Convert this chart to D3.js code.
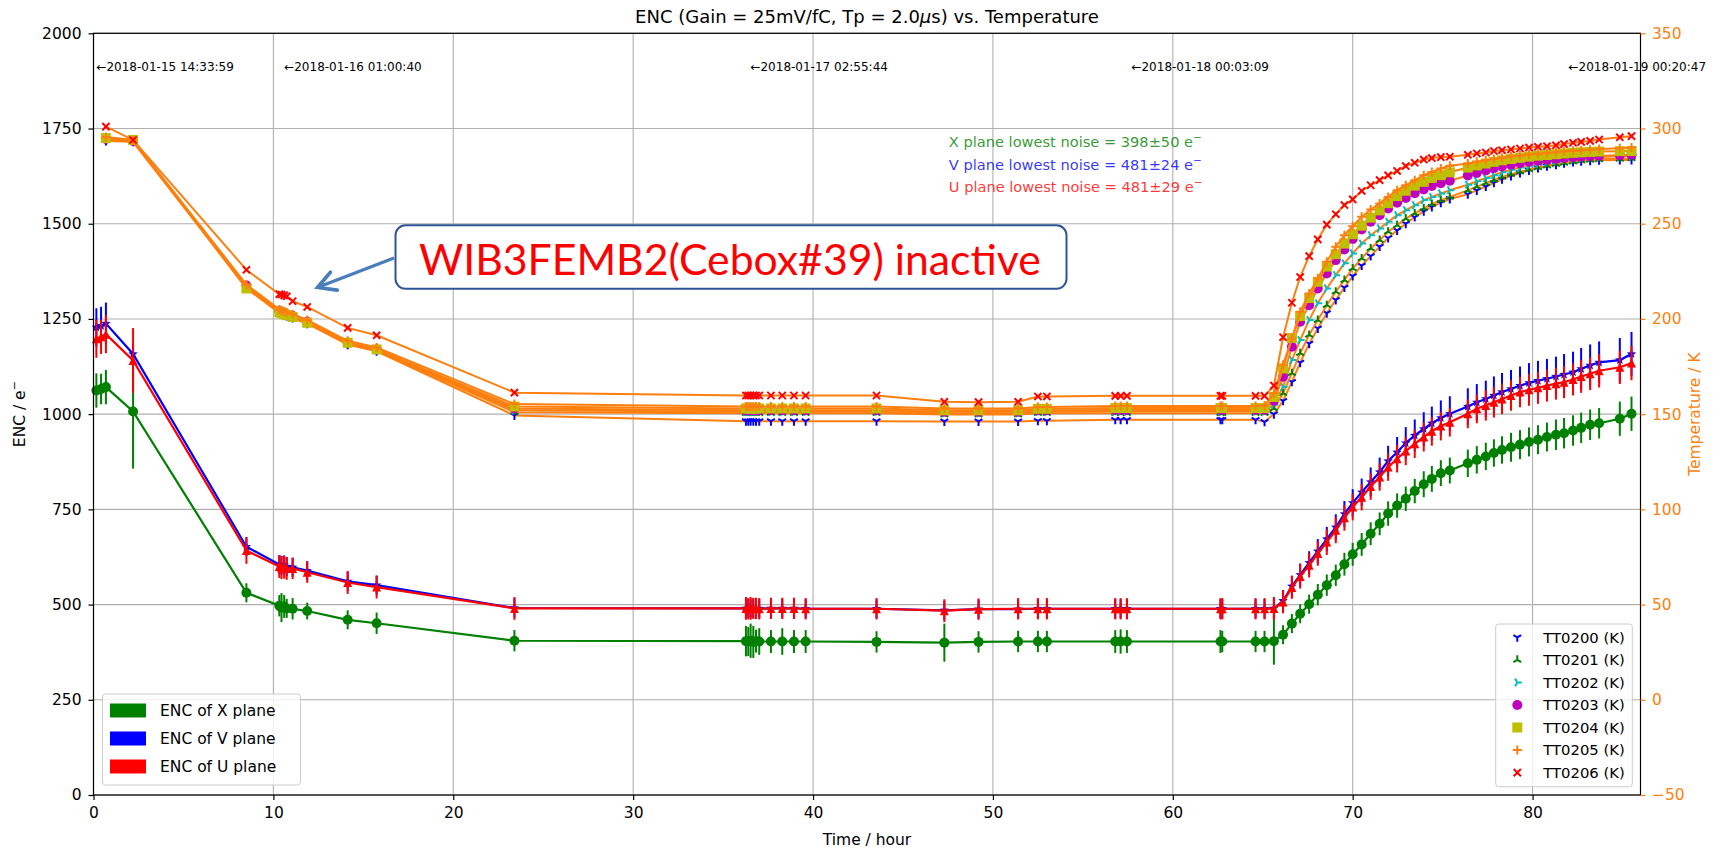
<!DOCTYPE html>
<html><head><meta charset="utf-8">
<script src="https://cdn.jsdelivr.net/npm/d3@7"></script>
<style>body{margin:0;background:#fff}svg{display:block}</style>
</head><body><svg id="c" width="1723" height="849"></svg>
<script>
// ---------------- data ----------------
const times = [0.16, 0.42, 0.69, 2.2, 8.5,
 10.33, 10.45, 10.6, 10.74, 11.07, 11.88, 14.13, 15.74, 23.4,
 36.27, 36.40, 36.53, 36.68, 36.83, 37.01, 37.66, 38.29, 38.94, 39.59,
 43.53, 47.3, 49.2, 51.4, 52.5, 53.0, 56.8, 57.1, 57.45, 62.65, 62.75, 64.6, 65.1, 65.62,
 66.13, 66.62, 67.08, 67.58, 68.06, 68.56, 69.06, 69.54, 70.0, 70.5,
 71.0, 71.5, 71.97, 72.47, 72.95, 73.45, 73.95, 74.4, 74.9, 75.4,
 76.4, 76.9, 77.4, 77.85, 78.3, 78.8, 79.3, 79.8, 80.3, 80.8,
 81.3, 81.75, 82.25, 82.7, 83.2, 83.7, 84.85, 85.5];

const encX = [1062, 1066, 1071, 1007, 531,
 497, 492, 495, 490, 489, 483, 460, 451, 405,
 404, 403, 405, 402, 404, 403, 403, 403, 403, 403,
 402, 400, 402, 403, 403, 403, 403, 403, 403, 403, 403, 403, 403, 404,
 421, 450, 476, 501, 526, 551, 577, 606, 632, 658,
 686, 712, 739, 760, 778, 798, 816, 830, 845, 852,
 871, 880, 889, 898, 906, 913, 920, 927, 933, 940,
 946, 950, 957, 964, 972, 976, 988, 1001];
const encXErr = [45, 40, 45, 150, 25,
 28, 38, 30, 25, 28, 22, 25, 28, 28,
 40, 38, 45, 42, 30, 35, 30, 35, 30, 30,
 28, 50, 28, 28, 28, 28, 30, 32, 30, 30, 28, 28, 28, 62,
 25, 25, 25, 25, 28, 28, 28, 30, 30, 30,
 30, 30, 32, 32, 32, 32, 34, 34, 34, 34,
 36, 36, 36, 36, 36, 38, 38, 38, 38, 38,
 40, 40, 40, 40, 40, 40, 45, 45];

const encV = [1228, 1232, 1238, 1158, 652,
 605, 603, 604, 600, 598, 589, 561, 551, 491,
 490, 490, 489, 490, 490, 489, 490, 490, 490, 489,
 489, 485, 488, 488, 489, 489, 489, 489, 489, 489, 489, 489, 489, 490,
 510, 548, 578, 610, 640, 672, 703, 738, 767, 795,
 822, 848, 877, 900, 924, 944, 961, 976, 990, 1001,
 1020, 1031, 1040, 1049, 1058, 1066, 1075, 1082, 1088, 1093,
 1099, 1104, 1110, 1119, 1128, 1136, 1142, 1158];
const encVErr = [50, 50, 55, 25, 25,
 25, 25, 25, 25, 25, 25, 25, 25, 25,
 25, 25, 25, 25, 25, 25, 25, 25, 25, 25,
 25, 25, 25, 25, 25, 25, 25, 25, 25, 25, 25, 25, 25, 25,
 28, 28, 30, 30, 32, 32, 34, 34, 36, 36,
 38, 38, 40, 40, 42, 42, 44, 44, 46, 46,
 48, 48, 48, 50, 50, 50, 50, 52, 52, 52,
 52, 54, 54, 55, 55, 55, 58, 58];

const encU = [1198, 1203, 1210, 1141, 642,
 600, 597, 598, 595, 595, 585, 558, 546, 490,
 490, 489, 490, 490, 490, 489, 490, 490, 490, 489,
 489, 484, 488, 489, 489, 489, 489, 489, 489, 489, 489, 489, 489, 490,
 507, 545, 574, 603, 634, 664, 695, 728, 756, 782,
 810, 835, 861, 883, 903, 922, 940, 955, 969, 979,
 1001, 1014, 1023, 1031, 1040, 1049, 1058, 1064, 1069, 1075,
 1080, 1084, 1091, 1099, 1106, 1114, 1123, 1134];
const encUErr = [50, 45, 50, 85, 35,
 30, 30, 30, 30, 28, 28, 30, 30, 30,
 30, 28, 30, 28, 28, 28, 28, 28, 28, 28,
 28, 30, 28, 28, 28, 28, 28, 28, 28, 28, 28, 28, 28, 30,
 30, 30, 32, 32, 32, 34, 34, 34, 35, 35,
 35, 36, 36, 36, 37, 37, 38, 38, 38, 38,
 38, 38, 40, 40, 40, 40, 40, 42, 42, 42,
 42, 42, 42, 43, 43, 44, 44, 45];

// temperatures (K); null = no reading at that time
const tt0200 = [null, null, 293.5, 293, 216.5,
 203, 202.5, 202, 201.5, 200.5, 197.5, 186.5, 183, 149.3,
 146.3, 146.3, 146.3, 146.3, 146.3, 146.3, 146.3, 146.3, 146.3, 146.3,
 146.3, 146.2, 146.2, 146.2, 146.5, 146.5, 147, 147, 147, 147, 147, 147, 146, 150,
 157, 167, 177, 187, 195, 203, 210, 216.5, 222.5, 228,
 233, 238, 242.5, 246.5, 250, 253.5, 256.5, 258.8, 261, 263,
 265.5, 267.5, 269.5, 271.5, 273.3, 275, 276.6, 278, 279.2, 280.2,
 281, 281.8, 282.4, 282.8, 283.1, 283.3, 283.4, 283.5];
const tt0201 = [null, null, 294, 293.5, 217,
 203.5, 203, 202.5, 202, 201, 198, 187, 183.5, 151,
 150.5, 150.5, 150.5, 150.5, 150.5, 150.5, 150.5, 150.5, 150.5, 150.5,
 150.5, 149.8, 149.8, 149.8, 150.5, 150.5, 150.5, 150.5, 150.5, 150.5, 150.5, 150.5, 150.5, 153,
 161, 171.5, 182, 191.6, 199.4, 207.2, 214.3, 220.4, 226.5, 231.8,
 237, 241.4, 245.8, 249.2, 252.7, 255.4, 258, 260.3, 262.4, 264.1,
 267.5, 269.5, 271.3, 273, 274.6, 276, 277.3, 278.5, 279.6, 280.5,
 281.3, 282, 282.6, 283.1, 283.5, 283.8, 284.1, 284.3];
const tt0202 = [null, null, 294.5, 293.5, 217,
 204, 203.5, 203, 202.5, 201.5, 198.5, 187.3, 183.8, 152,
 151.2, 151.2, 151.2, 151.2, 151.2, 151.2, 151.2, 151.2, 151.2, 151.2,
 151.2, 150.5, 150.5, 150.5, 151.2, 151.2, 151.5, 151.5, 151.5, 151.5, 151.5, 151.5, 151.5, 155,
 164.4, 178.4, 188.9, 199.4, 208.2, 216, 223, 229.2, 234.4, 239.6,
 244, 247.5, 251, 254.5, 257.1, 259.7, 262.4, 264.1, 265.9, 267.6,
 270.5, 272.3, 274, 275.5, 277, 278.3, 279.5, 280.5, 281.4, 282.2,
 282.9, 283.5, 284, 284.4, 284.8, 285.1, 285.4, 285.6];
const tt0203 = [null, null, 294.5, 293.5, 217.5,
 204, 203.5, 203, 202.5, 201.5, 198.5, 187.5, 184, 153,
 152, 152, 152, 152, 152, 152, 152, 152, 152, 152,
 152, 151.2, 151.2, 151.2, 152, 152, 152.2, 152.2, 152.2, 152.2, 152.2, 152.2, 152.2, 157,
 169.6, 185.4, 198.5, 207.2, 216, 223.9, 230.9, 236.5, 242, 247,
 251, 254.5, 258, 261, 263.5, 266, 268, 269.8, 271.3, 272.6,
 275.3, 276.7, 278, 279.1, 280.1, 281, 281.8, 282.5, 283.1, 283.6,
 284.1, 284.5, 284.9, 285.2, 285.5, 285.7, 286, 286.2];
const tt0204 = [null, null, 295, 294, 216,
 203.5, 203, 202.5, 202, 201, 198, 187.5, 184, 154,
 153, 153, 153, 153, 153, 153, 153, 153, 153, 153,
 153, 152, 152, 152, 152.8, 152.8, 153.2, 153.2, 153.2, 153.2, 153.2, 153.2, 153.2, 159,
 174, 190, 201.5, 211, 219.5, 227.5, 234, 239.6, 244.5, 249,
 253.2, 257, 260.8, 264.5, 267.3, 270, 272, 274, 275.5, 277,
 279.5, 280.6, 281.6, 282.5, 283.3, 284, 284.6, 285.2, 285.7, 286.1,
 286.5, 286.9, 287.2, 287.5, 287.7, 287.9, 288.1, 288.2];
const tt0205 = [null, null, 295.5, 294, 218,
 205, 204.5, 204, 203.5, 202.5, 199.5, 188.5, 185, 155.3,
 154, 154, 154, 154, 154, 154, 154, 154, 154, 154,
 154, 153, 153, 153, 153.8, 153.8, 154.3, 154.3, 154.3, 154.3, 154.3, 154.3, 154.5, 161,
 176, 189.7, 203.8, 213.4, 221.2, 230, 237.9, 244, 248.7, 253.6,
 257.5, 260.6, 264.1, 267.6, 270.2, 272.8, 275.5, 277.2, 279, 280.5,
 281.6, 282.5, 283.3, 284, 284.7, 285.3, 285.8, 286.3, 286.8, 287.2,
 287.6, 288, 288.3, 288.6, 288.9, 289.2, 289.6, 290];
const tt0206 = [null, null, 301, 294, 225.8,
 213, 212.8, 212.4, 211.9, 209.3, 206.3, 195.3, 191.4, 161.3,
 159.8, 159.8, 159.8, 159.8, 159.8, 159.8, 159.8, 159.8, 159.8, 159.8,
 159.8, 156.5, 156.3, 156.5, 159.3, 159.3, 159.6, 159.6, 159.6, 159.6, 159.6, 159.6, 159.6, 165,
 190.4, 208.5, 222, 233, 241.8, 249.5, 255, 259.8, 262.8, 267.2,
 270.2, 272.9, 275.4, 277.7, 280.3, 282, 283.7, 284.5, 285, 285.2,
 286.2, 286.9, 287.4, 288.2, 288.6, 289, 289.5, 290, 290.4, 290.7,
 291.2, 291.8, 292.5, 293, 293.5, 294.2, 295.4, 296];

const ttNames = ["TT0200 (K)", "TT0201 (K)", "TT0202 (K)", "TT0203 (K)", "TT0204 (K)", "TT0205 (K)", "TT0206 (K)"];
const ttMarkerColors = ["#0000ff", "#008000", "#00bfbf", "#bf00bf", "#bfbf00", "#ff7f0e", "#ff0000"];
const ttMarkers = ["tri_down", "tri_up", "tri_right", "circle", "square", "plus", "x"];
const encNames = ["ENC of X plane", "ENC of V plane", "ENC of U plane"];
const encColors = ["#008000", "#0000ff", "#ff0000"];

const xTicks = [0, 10, 20, 30, 40, 50, 60, 70, 80];
const yLTicks = [0, 250, 500, 750, 1000, 1250, 1500, 1750, 2000];
const yRTicks = [-50, 0, 50, 100, 150, 200, 250, 300, 350];

const stampTimes = [0.16, 10.6, 36.52, 57.7, 82.0];
const stampLabels = ["\u21902018-01-15 14:33:59", "\u21902018-01-16 01:00:40", "\u21902018-01-17 02:55:44", "\u21902018-01-18 00:03:09", "\u21902018-01-19 00:20:47"];
const noiseLabels = ["X plane lowest noise = 398\u00b150 e", "V plane lowest noise = 481\u00b124 e", "U plane lowest noise = 481\u00b129 e"];

// ---------------- layout ----------------
const FONT = '"DejaVu Sans", sans-serif';
const ORANGE = "#ff7f0e";
const m = {l: 93.5, r: 1640.5, t: 33.3, b: 795};
const x = d3.scaleLinear().domain([0, 86]).range([m.l, m.r]);
const yL = d3.scaleLinear().domain([0, 2000]).range([m.b, m.t]);
const yR = d3.scaleLinear().domain([-50, 350]).range([m.b, m.t]);
const svg = d3.select("#c");
svg.append("rect").attr("width", 1723).attr("height", 849).attr("fill", "#fff");

// grid
const grid = svg.append("g").attr("stroke", "#b0b0b0").attr("stroke-width", 1.1);
grid.selectAll(".gx").data(xTicks).join("line").attr("x1", d => x(d)).attr("x2", d => x(d)).attr("y1", m.t).attr("y2", m.b);
grid.selectAll(".gy").data(yLTicks).join("line").attr("y1", d => yL(d)).attr("y2", d => yL(d)).attr("x1", m.l).attr("x2", m.r);

// marker paths
function markerPath(type, s) {
  const h = s / 2;
  switch (type) {
    case "circle": return `M${h},0A${h},${h} 0 1,1 ${-h},0A${h},${h} 0 1,1 ${h},0Z`;
    case "square": return `M${-h},${-h}h${s}v${s}h${-s}Z`;
    case "tri": return `M0,${-h}L${h},${h}L${-h},${h}Z`;
    case "star": {
      let p = "";
      for (let i = 0; i < 10; i++) {
        const r = i % 2 ? h * 0.42 : h;
        const a = -Math.PI / 2 + i * Math.PI / 5;
        p += (i ? "L" : "M") + (r * Math.cos(a)).toFixed(2) + "," + (r * Math.sin(a)).toFixed(2);
      }
      return p + "Z";
    }
    case "tri_down": return `M0,0L0,${h}M0,0L${-0.866*h},${-0.5*h}M0,0L${0.866*h},${-0.5*h}`;
    case "tri_up": return `M0,0L0,${-h}M0,0L${-0.866*h},${0.5*h}M0,0L${0.866*h},${0.5*h}`;
    case "tri_right": return `M0,0L${h},0M0,0L${-0.5*h},${-0.866*h}M0,0L${-0.5*h},${0.866*h}`;
    case "plus": return `M${-h},0L${h},0M0,${-h}L0,${h}`;
    case "x": { const k = h * 0.8; return `M${-k},${-k}L${k},${k}M${-k},${k}L${k},${-k}`; }
  }
}
const lineMarkers = new Set(["tri_down", "tri_up", "tri_right", "plus", "x"]);
function drawMarker(g, type, color, s, cx, cy) {
  const p = g.append("path").attr("d", markerPath(type, s)).attr("transform", `translate(${cx},${cy})`);
  if (lineMarkers.has(type)) p.attr("fill", "none").attr("stroke", color).attr("stroke-width", 2);
  else p.attr("fill", color).attr("stroke", "none");
}

// ENC series
const encSeries = [
  {v: encX, e: encXErr, c: encColors[0], mk: "circle", s: 10},
  {v: encV, e: encVErr, c: encColors[1], mk: "star", s: 10},
  {v: encU, e: encUErr, c: encColors[2], mk: "tri", s: 9}
];
const gEnc = svg.append("g");
encSeries.forEach(se => {
  const g = gEnc.append("g");
  const pts = times.map((t, i) => ({t, v: se.v[i], e: se.e[i]}));
  g.append("path").datum(pts).attr("fill", "none").attr("stroke", se.c).attr("stroke-width", 2.2)
    .attr("d", d3.line().x(d => x(d.t)).y(d => yL(d.v)));
  g.selectAll(".eb").data(pts).join("line").attr("stroke", se.c).attr("stroke-width", 2)
    .attr("x1", d => x(d.t)).attr("x2", d => x(d.t)).attr("y1", d => yL(d.v - d.e)).attr("y2", d => yL(d.v + d.e));
  pts.forEach(d => drawMarker(g, se.mk, se.c, se.s, x(d.t), yL(d.v)));
});

// Temperature series
const ttData = [tt0200, tt0201, tt0202, tt0203, tt0204, tt0205, tt0206];
const gT = svg.append("g");
ttData.forEach((arr, k) => {
  const g = gT.append("g");
  const pts = times.map((t, i) => ({t, v: arr[i]})).filter(d => d.v !== null);
  g.append("path").datum(pts).attr("fill", "none").attr("stroke", ORANGE).attr("stroke-width", 2)
    .attr("d", d3.line().x(d => x(d.t)).y(d => yR(d.v)));
  const sz = (ttMarkers[k] === "circle" || ttMarkers[k] === "square") ? 10 : 9;
  pts.forEach(d => drawMarker(g, ttMarkers[k], ttMarkerColors[k], sz, x(d.t), yR(d.v)));
});

// spines
const sp = svg.append("g").attr("stroke", "#000").attr("stroke-width", 1.2).attr("fill", "none");
sp.append("rect").attr("x", m.l).attr("y", m.t).attr("width", m.r - m.l).attr("height", m.b - m.t);

// axes
function styleAxis(g, color) {
  g.attr("font-family", FONT).attr("font-size", 15.5);
  g.select(".domain").remove();
  g.selectAll(".tick line").attr("stroke", color).attr("stroke-width", 1.2);
  g.selectAll(".tick text").attr("fill", color);
}
const gx = svg.append("g").attr("transform", `translate(0,${m.b})`)
  .call(d3.axisBottom(x).tickValues(xTicks).tickSize(5).tickPadding(7).tickFormat(d3.format("d")));
styleAxis(gx, "#000");
const gyl = svg.append("g").attr("transform", `translate(${m.l},0)`)
  .call(d3.axisLeft(yL).tickValues(yLTicks).tickSize(5).tickPadding(7).tickFormat(d3.format("d")));
styleAxis(gyl, "#000");
const gyr = svg.append("g").attr("transform", `translate(${m.r},0)`)
  .call(d3.axisRight(yR).tickValues(yRTicks).tickSize(5).tickPadding(6.5).tickFormat(d3.format("d")));
styleAxis(gyr, ORANGE);

// titles and labels
const title = svg.append("text").attr("x", (m.l + m.r) / 2).attr("y", 23).attr("text-anchor", "middle")
  .attr("font-family", FONT).attr("font-size", 18).attr("fill", "#000");
title.append("tspan").text("ENC (Gain = 25mV/fC, Tp = 2.0");
title.append("tspan").attr("font-style", "italic").text("\u03bc");
title.append("tspan").text("s) vs. Temperature");

svg.append("text").attr("x", (m.l + m.r) / 2).attr("y", 845).attr("text-anchor", "middle")
  .attr("font-family", FONT).attr("font-size", 15.5).text("Time / hour");

const yl = svg.append("text").attr("transform", `translate(25,${(m.t + m.b) / 2}) rotate(-90)`).attr("text-anchor", "middle")
  .attr("font-family", FONT).attr("font-size", 15.5);
yl.append("tspan").text("ENC / e");
yl.append("tspan").attr("dy", -7).attr("font-size", 11).text("\u2212");

svg.append("text").attr("transform", `translate(1700,${(m.t + m.b) / 2}) rotate(-90)`).attr("text-anchor", "middle")
  .attr("font-family", FONT).attr("font-size", 15.5).attr("fill", ORANGE).text("Temperature / K");

// time stamps
svg.append("g").selectAll("text").data(stampTimes).join("text")
  .attr("x", d => x(d)).attr("y", yL(1900)).attr("font-family", FONT).attr("font-size", 12).attr("fill", "#000")
  .text((d, i) => stampLabels[i]);

// noise text
const noiseG = svg.append("g");
noiseLabels.forEach((lab, i) => {
  const t = noiseG.append("text").attr("x", x(47.55)).attr("y", 147 + i * 22.5)
    .attr("font-family", FONT).attr("font-size", 14.6).attr("fill", encColors[i]).attr("fill-opacity", 0.8);
  t.append("tspan").text(lab);
  t.append("tspan").attr("dy", -6).attr("font-size", 10.5).text("\u2212");
});

// ENC legend (lower left)
const lg1 = svg.append("g");
lg1.append("rect").attr("x", 102.5).attr("y", 694).attr("width", 198).attr("height", 91).attr("rx", 3)
  .attr("fill", "#fff").attr("fill-opacity", 0.8).attr("stroke", "#cccccc");
encNames.forEach((n, i) => {
  const cy = 710.5 + i * 28;
  lg1.append("rect").attr("x", 110).attr("y", cy - 7).attr("width", 36).attr("height", 14).attr("fill", encColors[i]);
  lg1.append("text").attr("x", 160).attr("y", cy).attr("dy", "0.36em").attr("font-family", FONT).attr("font-size", 15.5).text(n);
});

// Temperature legend (lower right)
const lg2 = svg.append("g");
lg2.append("rect").attr("x", 1495.7).attr("y", 624).attr("width", 136.6).attr("height", 162.7).attr("rx", 3)
  .attr("fill", "#fff").attr("fill-opacity", 0.8).attr("stroke", "#cccccc");
ttNames.forEach((n, i) => {
  const cy = 637.3 + i * 22.55;
  const sz = (ttMarkers[i] === "circle" || ttMarkers[i] === "square") ? 10 : 9;
  drawMarker(lg2, ttMarkers[i], ttMarkerColors[i], sz, 1517.3, cy);
  lg2.append("text").attr("x", 1543.3).attr("y", cy).attr("dy", "0.36em").attr("font-family", FONT).attr("font-size", 14.8).text(n);
});

// annotation box + arrow
const ann = svg.append("g");
ann.append("rect").attr("x", 395.5).attr("y", 225.3).attr("width", 671).attr("height", 63.5).attr("rx", 10)
  .attr("fill", "#fff").attr("stroke", "#2f5597").attr("stroke-width", 2);
const bt = ann.append("text").attr("x", 419).attr("y", 275).attr("font-family", "Lato, 'Liberation Sans', sans-serif")
  .attr("font-size", 44).attr("fill", "#ff0000").text("WIB3FEMB2(Cebox#39) inactive");
const bw = bt.node().getComputedTextLength();
if (bw > 0) bt.attr("font-size", 44 * 622 / bw);
const a0 = [394, 258], a1 = [317.5, 287.5];
ann.append("line").attr("x1", a0[0]).attr("y1", a0[1]).attr("x2", a1[0] + 3).attr("y2", a1[1] - 1.2)
  .attr("stroke", "#4a7ebb").attr("stroke-width", 3.2);
{
  const ang = Math.atan2(a1[1] - a0[1], a1[0] - a0[0]);
  const L = 20, sp2 = 0.5;
  const w1 = [a1[0] - L * Math.cos(ang - sp2), a1[1] - L * Math.sin(ang - sp2)];
  const w2 = [a1[0] - L * Math.cos(ang + sp2), a1[1] - L * Math.sin(ang + sp2)];
  ann.append("path").attr("d", `M${w1[0]},${w1[1]}L${a1[0]},${a1[1]}L${w2[0]},${w2[1]}`)
    .attr("fill", "none").attr("stroke", "#4a7ebb").attr("stroke-width", 3.6).attr("stroke-linejoin", "miter").attr("stroke-linecap", "round");
}
</script></body></html>
